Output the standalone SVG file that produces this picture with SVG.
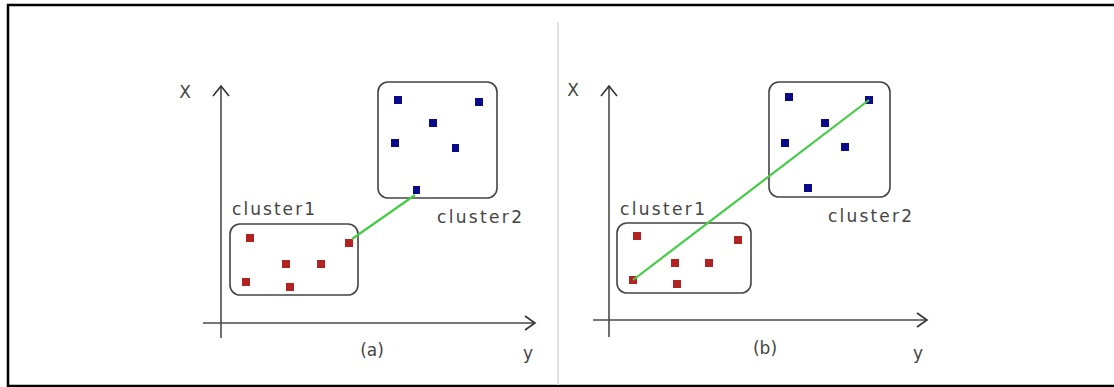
<svg xmlns="http://www.w3.org/2000/svg" width="1114" height="387" viewBox="0 0 1114 387">
<defs>
<style>
.frame{fill:none;stroke:#000;stroke-width:2.5}
.axis{fill:none;stroke:#4a4a4a;stroke-width:1.6}
.head{fill:none;stroke:#333;stroke-width:1.6}
.box{fill:#fff;stroke:#444;stroke-width:1.6}
.red{fill:#b22222}
.blue{fill:#0a0a8a}
.link{stroke:#44cc44;stroke-width:2.2;fill:none}
.t{font-family:"DejaVu Sans",sans-serif;font-size:17px;fill:#444}
</style>
</defs>
<rect width="1114" height="387" fill="#fff"/>
<path class="frame" d="M1114,5 H8 V386 H1114"/>
<line x1="558" y1="22" x2="558" y2="385" stroke="#e2e2e2" stroke-width="2"/>

<g id="panel-a">
<g id="axes-a">
<line class="axis" x1="221" y1="86" x2="221" y2="338"/>
<line class="axis" x1="203" y1="323" x2="535" y2="323"/>
<path class="head" d="M213,96 L221,86 L229,96"/>
<path class="head" d="M525,316 L535,323 L525,330"/>
<text class="t" x="185" y="98" text-anchor="middle">X</text>
<text class="t" x="528" y="359" text-anchor="middle">y</text>
<text class="t" x="372" y="356" text-anchor="middle">(a)</text>
</g>
<g id="cluster1-a">
<rect class="box" x="230" y="224" width="128" height="71" rx="10"/>
<text class="t" x="232" y="215" textLength="83">cluster1</text>
<rect class="red" x="246" y="234" width="8" height="8"/>
<rect class="red" x="345" y="239" width="8" height="8"/>
<rect class="red" x="282" y="260" width="8" height="8"/>
<rect class="red" x="317" y="260" width="8" height="8"/>
<rect class="red" x="242" y="278" width="8" height="8"/>
<rect class="red" x="286" y="283" width="8" height="8"/>
</g>
<g id="cluster2-a">
<rect class="box" x="378" y="82" width="119" height="116" rx="10"/>
<text class="t" x="437" y="223" textLength="85">cluster2</text>
<rect class="blue" x="394" y="96" width="8" height="8"/>
<rect class="blue" x="475" y="98" width="8" height="8"/>
<rect class="blue" x="429" y="119" width="8" height="8"/>
<rect class="blue" x="391" y="139" width="8" height="8"/>
<rect class="blue" x="452" y="144" width="7" height="8"/>
<rect class="blue" x="413" y="186" width="7" height="8"/>
</g>
</g>

<g id="panel-b">
<g id="axes-b">
<line class="axis" x1="609" y1="86" x2="609" y2="337"/>
<line class="axis" x1="593" y1="320" x2="927" y2="320"/>
<path class="head" d="M601,96 L609,86 L617,96"/>
<path class="head" d="M917,313 L927,320 L917,327"/>
<text class="t" x="573" y="96" text-anchor="middle">X</text>
<text class="t" x="918" y="359" text-anchor="middle">y</text>
<text class="t" x="765" y="354" text-anchor="middle">(b)</text>
</g>
<g id="cluster1-b">
<rect class="box" x="617" y="223" width="134" height="70" rx="10"/>
<text class="t" x="620" y="215" textLength="85">cluster1</text>
<rect class="red" x="633" y="232" width="8" height="8"/>
<rect class="red" x="734" y="236" width="8" height="8"/>
<rect class="red" x="671" y="259" width="8" height="8"/>
<rect class="red" x="705" y="259" width="8" height="8"/>
<rect class="red" x="629" y="276" width="8" height="8"/>
<rect class="red" x="673" y="280" width="8" height="8"/>
</g>
<g id="cluster2-b">
<rect class="box" x="769" y="82" width="121" height="115" rx="10"/>
<text class="t" x="828" y="222" textLength="84">cluster2</text>
<rect class="blue" x="785" y="93" width="8" height="8"/>
<rect class="blue" x="865" y="96" width="8" height="8"/>
<rect class="blue" x="821" y="119" width="8" height="8"/>
<rect class="blue" x="781" y="139" width="8" height="8"/>
<rect class="blue" x="841" y="143" width="8" height="8"/>
<rect class="blue" x="804" y="184" width="8" height="8"/>
</g>
</g>

<g id="connectors">
<line class="link" x1="352" y1="239" x2="415" y2="195"/>
<line class="link" x1="633" y1="280" x2="869" y2="100"/>
</g>
</svg>
